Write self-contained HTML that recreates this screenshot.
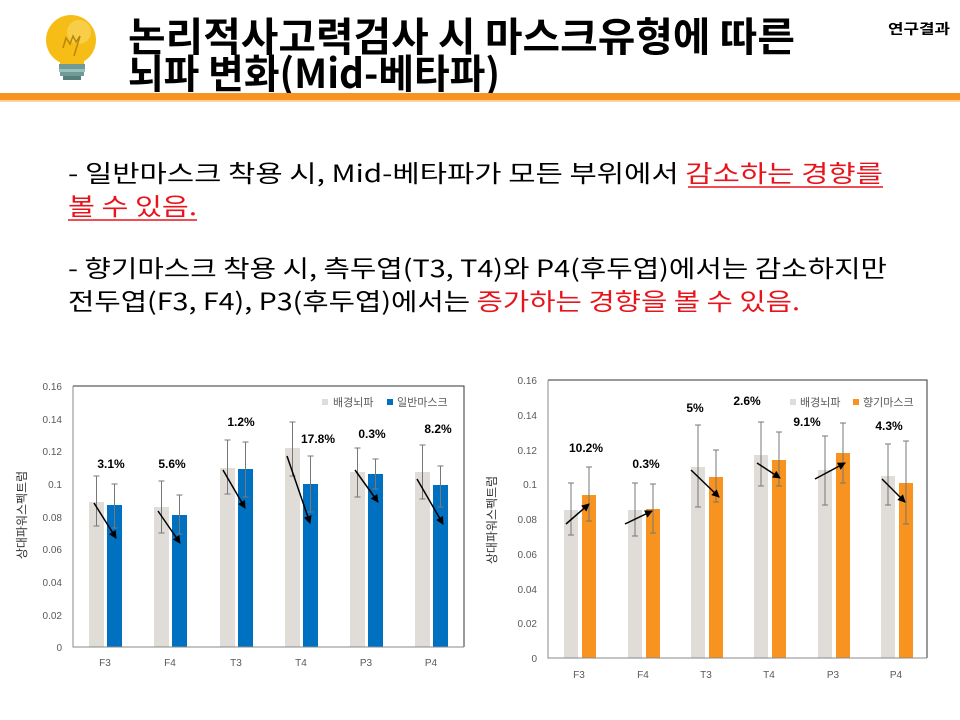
<!DOCTYPE html>
<html><head><meta charset="utf-8"><style>
html,body{margin:0;padding:0;background:#fff;width:960px;height:720px;overflow:hidden}
svg{display:block}
.t{font-family:"Liberation Sans","Noto Sans CJK KR",sans-serif}
</style></head><body>
<svg width="960" height="720" viewBox="0 0 960 720" xmlns="http://www.w3.org/2000/svg" class="t">
<!-- header -->
<circle cx="71" cy="40" r="25" fill="#f6bd16"/>
<circle cx="79" cy="32" r="12" fill="#f9d55e" opacity="0.7"/>
<path d="M63 48 L66 38 L70 44 L73 36 L76 42 L80 36 L74 56" stroke="#b8860b" stroke-width="1.5" fill="none"/>
<rect x="60" y="58" width="24" height="6" fill="#f6bd16"/>
<rect x="59" y="64" width="26" height="5" fill="#6f9a96"/>
<rect x="59" y="69" width="26" height="3" fill="#9bc0bb"/>
<rect x="60" y="72" width="24" height="4" fill="#6f9a96"/>
<rect x="63" y="76" width="18" height="4" fill="#557f7b"/>
<text x="128" y="51" font-size="40" font-weight="bold" font-family="'Noto Sans CJK KR',sans-serif" textLength="667" lengthAdjust="spacingAndGlyphs">논리적사고력검사 시 마스크유형에 따른</text>
<text x="128" y="88" font-size="40" font-weight="bold" font-family="'Noto Sans CJK KR',sans-serif" textLength="372" lengthAdjust="spacingAndGlyphs">뇌파 변화(Mid-베타파)</text>
<text x="888" y="34" font-size="14" font-weight="bold" font-family="'Noto Sans CJK KR',sans-serif" textLength="62" lengthAdjust="spacingAndGlyphs">연구결과</text>
<rect x="0" y="93" width="960" height="7" fill="#f7931e"/>
<rect x="0" y="100" width="960" height="2" fill="#fbd3a6"/>
<!-- body text -->
<g font-size="24" font-family="'Noto Sans CJK KR',sans-serif">
<text x="68" y="182" textLength="815" lengthAdjust="spacingAndGlyphs">- 일반마스크 착용 시, Mid-베타파가 모든 부위에서 <tspan fill="#e8141b">감소하는 경향를</tspan></text>
<line x1="688" y1="187" x2="883" y2="187" stroke="#e8141b" stroke-width="1.5"/>
<text x="68" y="215" fill="#e8141b" textLength="129" lengthAdjust="spacingAndGlyphs">볼 수 있음.</text>
<line x1="68" y1="220" x2="197" y2="220" stroke="#e8141b" stroke-width="1.5"/>
<text x="68" y="277" textLength="819" lengthAdjust="spacingAndGlyphs">- 향기마스크 착용 시, 측두엽(T3, T4)와 P4(후두엽)에서는 감소하지만</text>
<text x="68" y="310" textLength="732" lengthAdjust="spacingAndGlyphs">전두엽(F3, F4), P3(후두엽)에서는 <tspan fill="#e8141b">증가하는 경향을 볼 수 있음.</tspan></text>
</g>
<defs><marker id="ar" markerWidth="8" markerHeight="8" refX="7" refY="4" orient="auto" markerUnits="userSpaceOnUse"><path d="M0,0 L8,4 L0,8 z" fill="#000"/></marker></defs>

<!-- LEFT CHART -->
<g font-size="10" fill="#595959" text-anchor="end">
<text x="62" y="390">0.16</text><text x="62" y="423">0.14</text><text x="62" y="455">0.12</text><text x="62" y="488">0.1</text><text x="62" y="521">0.08</text><text x="62" y="553">0.06</text><text x="62" y="586">0.04</text><text x="62" y="619">0.02</text><text x="62" y="651">0</text>
</g>
<text transform="translate(26,515) rotate(-90)" font-size="12" text-anchor="middle" fill="#333" font-family="'Noto Sans CJK KR',sans-serif">상대파워스펙트럼</text>
<g fill="#e0dcd8">
<rect x="89" y="502" width="15" height="145"/><rect x="154" y="507" width="15" height="140"/><rect x="220" y="468" width="15" height="179"/><rect x="285" y="448" width="15" height="199"/><rect x="350" y="472" width="15" height="175"/><rect x="415" y="472" width="15" height="175"/>
</g>
<g fill="#0070c0">
<rect x="107" y="505" width="15" height="142"/><rect x="172" y="515" width="15" height="132"/><rect x="238" y="469" width="15" height="178"/><rect x="303" y="484" width="15" height="163"/><rect x="368" y="474" width="15" height="173"/><rect x="433" y="485" width="15" height="162"/>
</g>
<g stroke="#777" stroke-width="1" fill="none">
<path d="M96.5 526V476M93.5 526h6M93.5 476h6"/>
<path d="M161.5 533V481M158.5 533h6M158.5 481h6"/>
<path d="M227.5 494V440M224.5 494h6M224.5 440h6"/>
<path d="M292.5 476V422M289.5 476h6M289.5 422h6"/>
<path d="M357.5 497V448M354.5 497h6M354.5 448h6"/>
<path d="M422.5 499V445M419.5 499h6M419.5 445h6"/>
<path d="M114.5 528V484M111.5 528h6M111.5 484h6"/>
<path d="M179.5 534V495M176.5 534h6M176.5 495h6"/>
<path d="M245.5 497V442M242.5 497h6M242.5 442h6"/>
<path d="M310.5 512V456M307.5 512h6M307.5 456h6"/>
<path d="M375.5 489V459M372.5 489h6M372.5 459h6"/>
<path d="M440.5 507V466M437.5 507h6M437.5 466h6"/>
</g>
<path d="M73 386H464V647" stroke="#333" fill="none"/>
<path d="M73 386V647H464" stroke="#888" fill="none"/>
<g stroke="#000" stroke-width="1.5" marker-end="url(#ar)">
<line x1="94" y1="503" x2="116" y2="538"/><line x1="158" y1="511" x2="180" y2="543"/><line x1="223" y1="470" x2="245" y2="508"/><line x1="287" y1="456" x2="310" y2="523"/><line x1="355" y1="470" x2="378" y2="502"/><line x1="417" y1="479" x2="443" y2="524"/>
</g>
<g font-size="12" font-weight="bold" text-anchor="middle">
<text x="111" y="468">3.1%</text><text x="172" y="468">5.6%</text><text x="241" y="426">1.2%</text><text x="318" y="443">17.8%</text><text x="372" y="438">0.3%</text><text x="438" y="433">8.2%</text>
</g>
<rect x="322" y="399" width="6" height="6" fill="#e0dcd8"/>
<text x="333" y="406" font-size="11" fill="#595959" font-family="'Noto Sans CJK KR',sans-serif">배경뇌파</text>
<rect x="387" y="399" width="6" height="6" fill="#0070c0"/>
<text x="397" y="406" font-size="11" fill="#595959" font-family="'Noto Sans CJK KR',sans-serif">일반마스크</text>
<g font-size="10" fill="#595959" text-anchor="middle">
<text x="105" y="666">F3</text><text x="170" y="666">F4</text><text x="236" y="666">T3</text><text x="301" y="666">T4</text><text x="366" y="666">P3</text><text x="431" y="666">P4</text>
</g>

<!-- RIGHT CHART -->
<g font-size="10" fill="#595959" text-anchor="end">
<text x="537" y="384">0.16</text><text x="537" y="419">0.14</text><text x="537" y="454">0.12</text><text x="537" y="488">0.1</text><text x="537" y="523">0.08</text><text x="537" y="558">0.06</text><text x="537" y="593">0.04</text><text x="537" y="627">0.02</text><text x="537" y="662">0</text>
</g>
<text transform="translate(496,520) rotate(-90)" font-size="12" text-anchor="middle" fill="#333" font-family="'Noto Sans CJK KR',sans-serif">상대파워스펙트럼</text>
<g fill="#e0dcd8">
<rect x="564" y="510" width="14" height="148"/><rect x="628" y="510" width="14" height="148"/><rect x="691" y="467" width="14" height="191"/><rect x="754" y="455" width="14" height="203"/><rect x="818" y="470" width="14" height="188"/><rect x="881" y="476" width="14" height="182"/>
</g>
<g fill="#f7931e">
<rect x="582" y="495" width="14" height="163"/><rect x="646" y="509" width="14" height="149"/><rect x="709" y="477" width="14" height="181"/><rect x="772" y="460" width="14" height="198"/><rect x="836" y="453" width="14" height="205"/><rect x="899" y="483" width="14" height="175"/>
</g>
<g stroke="#777" stroke-width="1" fill="none">
<path d="M571 535V483M568 535h6M568 483h6"/>
<path d="M635 536V483M632 536h6M632 483h6"/>
<path d="M698 507V425M695 507h6M695 425h6"/>
<path d="M761 486V422M758 486h6M758 422h6"/>
<path d="M825 505V436M822 505h6M822 436h6"/>
<path d="M888 505V444M885 505h6M885 444h6"/>
<path d="M589 521V467M586 521h6M586 467h6"/>
<path d="M653 533V484M650 533h6M650 484h6"/>
<path d="M716 502V450M713 502h6M713 450h6"/>
<path d="M779 486V432M776 486h6M776 432h6"/>
<path d="M843 483V423M840 483h6M840 423h6"/>
<path d="M906 524V441M903 524h6M903 441h6"/>
</g>
<path d="M548 380H927V658" stroke="#333" fill="none"/>
<path d="M548 380V658H927" stroke="#888" fill="none"/>
<g stroke="#000" stroke-width="1.5" marker-end="url(#ar)">
<line x1="566" y1="524" x2="589" y2="504"/><line x1="625" y1="524" x2="652" y2="511"/><line x1="691" y1="470" x2="719" y2="497"/><line x1="757" y1="463" x2="780" y2="478"/><line x1="815" y1="479" x2="845" y2="463"/><line x1="882" y1="479" x2="905" y2="502"/>
</g>
<g font-size="12" font-weight="bold" text-anchor="middle">
<text x="586" y="452">10.2%</text><text x="646" y="468">0.3%</text><text x="695" y="412">5%</text><text x="747" y="405">2.6%</text><text x="807" y="426">9.1%</text><text x="889" y="430">4.3%</text>
</g>
<rect x="790" y="399" width="6" height="6" fill="#e0dcd8"/>
<text x="800" y="406" font-size="11" fill="#595959" font-family="'Noto Sans CJK KR',sans-serif">배경뇌파</text>
<rect x="853" y="399" width="6" height="6" fill="#f7931e"/>
<text x="863" y="406" font-size="11" fill="#595959" font-family="'Noto Sans CJK KR',sans-serif">향기마스크</text>
<g font-size="10" fill="#595959" text-anchor="middle">
<text x="579" y="678">F3</text><text x="643" y="678">F4</text><text x="706" y="678">T3</text><text x="769" y="678">T4</text><text x="833" y="678">P3</text><text x="896" y="678">P4</text>
</g>
</svg>
</body></html>
